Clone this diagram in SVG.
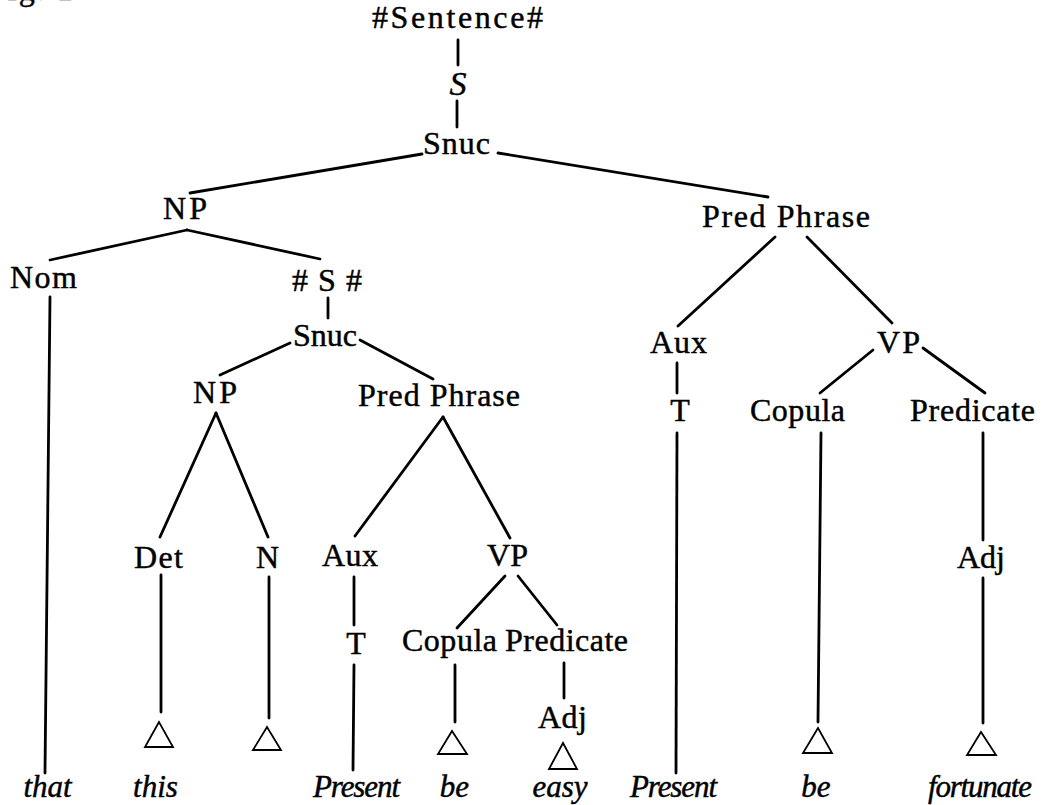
<svg xmlns="http://www.w3.org/2000/svg" width="1043" height="805" viewBox="0 0 1043 805">
  <style>
    .lbl { font-family: "Liberation Serif", "Times New Roman", serif; font-size: 32px; text-anchor: middle; fill: #000; stroke: #000; stroke-width: 0.45; }
    .leaf { font-style: italic; font-size: 31px; }
    .edges line { stroke: #000; stroke-width: 2.8; stroke-linecap: round; }
    .tri { fill: none; stroke: #000; stroke-width: 1.8; stroke-linejoin: miter; }
  </style>
  <rect width="1043" height="805" fill="#fff"/>

  <!-- figure caption, mostly above the top edge -->
  <text class="lbl" x="-12" y="0" style="text-anchor:start" letter-spacing="2">Fig. 1</text>

  <!-- tree branches -->
  <g id="connectors" class="edges">
    <line x1="458" y1="40" x2="458" y2="65"/>
    <line x1="457" y1="101" x2="457" y2="127"/>
    <line x1="422" y1="154" x2="190" y2="193"/>
    <line x1="498" y1="153" x2="768" y2="197"/>
    <line x1="187" y1="230" x2="50" y2="260"/>
    <line x1="187" y1="230" x2="320" y2="259"/>
    <line x1="50" y1="297" x2="45" y2="773"/>
    <line x1="328" y1="298" x2="328" y2="318"/>
    <line x1="290" y1="343" x2="220" y2="375"/>
    <line x1="360" y1="340" x2="433" y2="379"/>
    <line x1="216" y1="413" x2="160" y2="537"/>
    <line x1="216" y1="413" x2="268" y2="537"/>
    <line x1="443" y1="417" x2="355" y2="536"/>
    <line x1="443" y1="417" x2="510" y2="538"/>
    <line x1="161" y1="575" x2="161" y2="712"/>
    <line x1="269" y1="577" x2="269" y2="718"/>
    <line x1="354" y1="577" x2="354" y2="625"/>
    <line x1="354" y1="665" x2="353" y2="770"/>
    <line x1="505" y1="576" x2="457" y2="628"/>
    <line x1="518" y1="576" x2="557" y2="625"/>
    <line x1="455" y1="665" x2="455" y2="722"/>
    <line x1="564" y1="663" x2="564" y2="698"/>
    <line x1="775" y1="237" x2="678" y2="326"/>
    <line x1="807" y1="237" x2="892" y2="323"/>
    <line x1="677" y1="363" x2="677" y2="393"/>
    <line x1="677" y1="433" x2="676" y2="773"/>
    <line x1="873" y1="350" x2="820" y2="393"/>
    <line x1="923" y1="348" x2="985" y2="393"/>
    <line x1="821" y1="433" x2="818" y2="722"/>
    <line x1="983" y1="433" x2="983" y2="540"/>
    <line x1="983" y1="578" x2="983" y2="723"/>
  </g>

  <!-- phrase-structure nodes -->
  <g id="n-sentence"><text class="lbl" x="457.5" y="28" textLength="171">#Sentence#</text></g>
  <g id="n-s"><text class="lbl" x="458" y="95" style="font-style:italic;font-size:34px">S</text></g>
  <g id="n-snuc"><text class="lbl" x="456.5" y="154" textLength="67">Snuc</text></g>
  <g id="n-np"><text class="lbl" x="185" y="219" textLength="44">NP</text></g>
  <g id="n-pred"><text class="lbl" x="786" y="227" textLength="168">Pred  Phrase</text></g>
  <g id="n-nom"><text class="lbl" x="43.5" y="288" textLength="67">Nom</text></g>
  <g id="n-emb-s"><text class="lbl" x="327" y="291" textLength="70">#S#</text></g>
  <g id="n-emb-snuc"><text class="lbl" x="325" y="346" textLength="64">Snuc</text></g>
  <g id="n-emb-np"><text class="lbl" x="215" y="403" textLength="44">NP</text></g>
  <g id="n-emb-pred"><text class="lbl" x="439" y="406" textLength="162">Pred  Phrase</text></g>
  <g id="n-aux"><text class="lbl" x="678.5" y="353" textLength="57">Aux</text></g>
  <g id="n-vp"><text class="lbl" x="898.5" y="353" textLength="43">VP</text></g>
  <g id="n-t"><text class="lbl" x="680" y="421">T</text></g>
  <g id="n-copula"><text class="lbl" x="797.5" y="421" textLength="95">Copula</text></g>
  <g id="n-predicate"><text class="lbl" x="972.5" y="421" textLength="125">Predicate</text></g>
  <g id="n-adj"><text class="lbl" x="981" y="568" textLength="48">Adj</text></g>
  <g id="n-det"><text class="lbl" x="158.5" y="568" textLength="49">Det</text></g>
  <g id="n-n"><text class="lbl" x="267.5" y="568">N</text></g>
  <g id="n-emb-aux"><text class="lbl" x="350" y="566" textLength="56">Aux</text></g>
  <g id="n-emb-vp"><text class="lbl" x="507.5" y="566" textLength="41">VP</text></g>
  <g id="n-emb-t"><text class="lbl" x="356" y="654">T</text></g>
  <g id="n-emb-copula"><text class="lbl" x="449.5" y="651" textLength="95">Copula</text></g>
  <g id="n-emb-predicate"><text class="lbl" x="566.5" y="651" textLength="123">Predicate</text></g>
  <g id="n-emb-adj"><text class="lbl" x="562.5" y="728" textLength="49">Adj</text></g>

  <!-- triangles: unanalysed constituents -->
  <g id="tri-det"><polygon class="tri" points="159,722 145,747 173,747"/></g>
  <g id="tri-n"><polygon class="tri" points="267,727 253,750 281,750"/></g>
  <g id="tri-emb-copula"><polygon class="tri" points="452,731 438,754 467,754"/></g>
  <g id="tri-emb-adj"><polygon class="tri" points="563,743 549,769 577,769"/></g>
  <g id="tri-copula"><polygon class="tri" points="818,728 803,753 832,753"/></g>
  <g id="tri-adj"><polygon class="tri" points="981,732 967,755 996,755"/></g>

  <!-- terminal strings -->
  <g id="w-that"><text class="lbl leaf" x="47.5" y="797">that</text></g>
  <g id="w-this"><text class="lbl leaf" x="155.5" y="797">this</text></g>
  <g id="w-present1"><text class="lbl leaf" x="356.5" y="797" textLength="87">Present</text></g>
  <g id="w-be1"><text class="lbl leaf" x="454.5" y="797">be</text></g>
  <g id="w-easy"><text class="lbl leaf" x="560" y="797">easy</text></g>
  <g id="w-present2"><text class="lbl leaf" x="673.5" y="797" textLength="87">Present</text></g>
  <g id="w-be2"><text class="lbl leaf" x="816" y="797">be</text></g>
  <g id="w-fortunate"><text class="lbl leaf" x="980" y="797" textLength="104">fortunate</text></g>
</svg>
